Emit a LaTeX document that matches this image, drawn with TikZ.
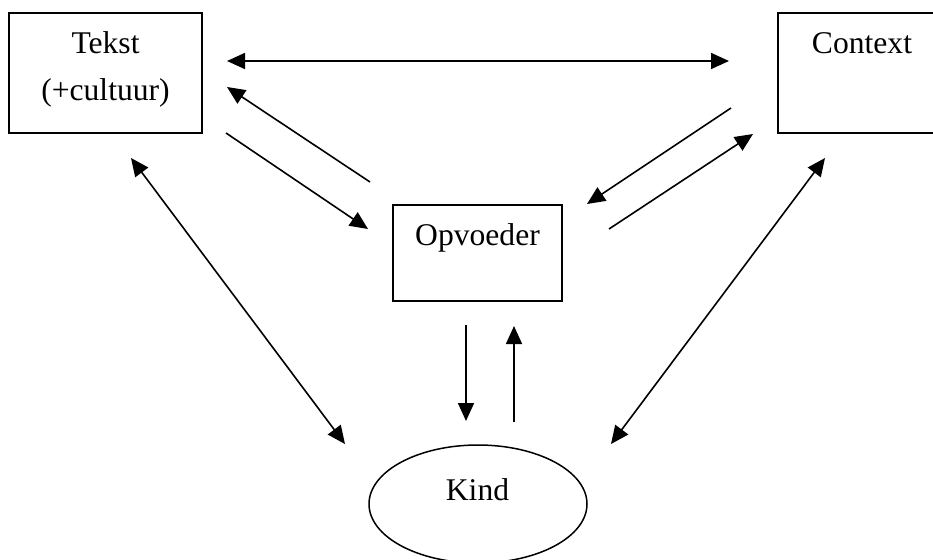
\documentclass[tikz,border=0pt]{standalone}
\usepackage{fontspec}
\setmainfont{Liberation Serif}
\usetikzlibrary{arrows.meta,shapes.geometric}
\begin{document}
\begin{tikzpicture}[x=1pt,y=-1pt,
  box/.style={draw, line width=1.5pt, rectangle, inner sep=0},
  oval/.style={draw, line width=1.5pt, ellipse, inner sep=0},
  lbl/.style={anchor=base, inner sep=0, font=\fontsize{31.6}{38}\selectfont},
  conn/.style={line width=1.6pt, -{Triangle[length=18pt,width=16pt]}},
  dconn/.style={line width=1.6pt, {Triangle[length=18pt,width=16pt]}-{Triangle[length=18pt,width=16pt]}}]
\useasboundingbox (0,0) rectangle (933,559);
% boxes
\node[box, minimum width=193pt, minimum height=120pt] (tekst) at (105.5,73) {};
\node[box, minimum width=166pt, minimum height=120pt] (context) at (861,73) {};
\node[box, minimum width=169pt, minimum height=96pt] (opvoeder) at (477.5,253) {};
\node[oval, minimum width=218pt, minimum height=118pt] (kind) at (478,504) {};
% labels
\node[lbl] (tekstA) at (105.5,54) {Tekst};
\node[lbl] (tekstB) at (105.5,100) {(+cultuur)};
\node[lbl] (contextL) at (862,54) {Context};
\node[lbl] (opvoederL) at (477.5,245) {Opvoeder};
\node[lbl] (kindL) at (477.5,500) {Kind};
% connector end points
\coordinate (p1a) at (227,61);  \coordinate (p1b) at (729,61);
\coordinate (p2a) at (370,182); \coordinate (p2b) at (227,87);
\coordinate (p3a) at (226,133); \coordinate (p3b) at (368,229);
\coordinate (p4a) at (731,108); \coordinate (p4b) at (587,204);
\coordinate (p5a) at (609,229); \coordinate (p5b) at (753,134);
\coordinate (p6a) at (131,158); \coordinate (p6b) at (345,444);
\coordinate (p7a) at (825,158); \coordinate (p7b) at (611,444);
\coordinate (p8a) at (466,325); \coordinate (p8b) at (466,421);
\coordinate (p9a) at (514,422); \coordinate (p9b) at (514,326);
% connectors
\draw[dconn] (p1a) -- (p1b);
\draw[conn] (p2a) -- (p2b);
\draw[conn] (p3a) -- (p3b);
\draw[conn] (p4a) -- (p4b);
\draw[conn] (p5a) -- (p5b);
\draw[dconn] (p6a) -- (p6b);
\draw[dconn] (p7a) -- (p7b);
\draw[conn] (p8a) -- (p8b);
\draw[conn] (p9a) -- (p9b);
\end{tikzpicture}
\end{document}
